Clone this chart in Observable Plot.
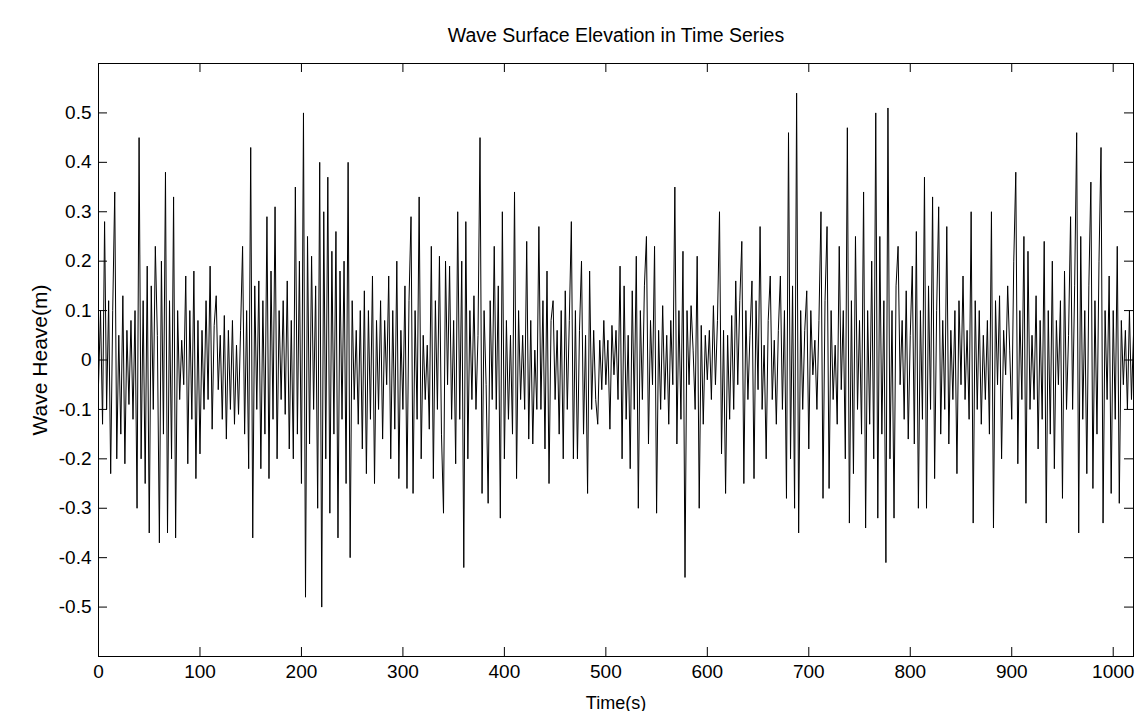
<!DOCTYPE html>
<html><head><meta charset="utf-8">
<script src="https://cdn.jsdelivr.net/npm/d3@7"></script>
<script src="https://cdn.jsdelivr.net/npm/@observablehq/plot@0.6"></script>
<style>
body{margin:0;background:#fff;}
#chart svg{font-family:"Liberation Sans",Arial,sans-serif;}
</style>
</head><body><div id="chart"></div>
<script>
const title = "Wave Surface Elevation in Time Series";
const xLabel = "Time(s)";
const yLabel = "Wave Heave(m)";
const xDomain = [0, 1020];
const yDomain = [-0.6, 0.6];
const xTicks = [0, 100, 200, 300, 400, 500, 600, 700, 800, 900, 1000];
const yTicks = [-0.5, -0.4, -0.3, -0.2, -0.1, 0, 0.1, 0.2, 0.3, 0.4, 0.5];
const sampleStep = 2; // seconds between the read samples
// wave heave (m), every 2 s (t = 0 ... 1020)
const heave = [
  -0.05, 0.1, -0.13, 0.28, -0.1, 0.12, -0.23, 0.1, 0.34, -0.2,
  0.05, -0.15, 0.13, -0.21, 0.06, -0.09, 0.08, -0.12, 0.1, -0.3,
  0.45, -0.2, 0.12, -0.25, 0.19, -0.35, 0.15, -0.1, 0.23, 0.05,
  -0.37, 0.2, -0.15, 0.38, -0.35, 0.12, -0.2, 0.33, -0.36, 0.1,
  -0.08, 0.04, -0.05, 0.17, -0.21, 0.1, -0.12, 0.18, -0.24, 0.08,
  -0.19, 0.06, -0.1, 0.12, -0.08, 0.19, -0.14, 0.07, 0.13, -0.06,
  0.05, -0.12, 0.09, -0.16, 0.06, -0.1, 0.08, -0.13, 0.03, -0.11,
  0.06, 0.23, -0.15, 0.1, -0.22, 0.43, -0.36, 0.15, -0.1, 0.16,
  -0.22, 0.12, -0.15, 0.29, -0.24, 0.18, -0.12, 0.31, -0.2, 0.1,
  -0.08, 0.12, -0.11, 0.16, -0.18, 0.08, -0.2, 0.35, -0.15, 0.2,
  -0.25, 0.5, -0.48, 0.25, -0.17, 0.21, -0.1, 0.15, -0.3, 0.4,
  -0.5, 0.3, -0.2, 0.37, -0.31, 0.22, -0.15, 0.26, -0.36, 0.18,
  -0.12, 0.2, -0.25, 0.4, -0.4, 0.12, -0.08, 0.06, -0.13, 0.1,
  -0.18, 0.14, -0.23, 0.1, -0.12, 0.17, -0.25, 0.08, -0.1, 0.12,
  -0.16, 0.08, -0.05, 0.17, -0.2, 0.1, -0.14, 0.2, -0.24, 0.06,
  -0.1, 0.15, -0.26, 0.12, 0.29, -0.27, 0.1, -0.12, 0.33, -0.2,
  0.05, -0.08, 0.03, -0.14, 0.23, -0.24, 0.12, -0.1, 0.21, -0.15,
  -0.31, 0.2, -0.05, 0.19, -0.12, 0.08, -0.21, 0.3, -0.12, 0.2,
  -0.42, 0.28, -0.2, 0.1, -0.08, 0.13, -0.1, 0.05, 0.45, -0.27,
  0.1, -0.05, -0.29, 0.12, -0.08, 0.23, -0.1, 0.15, -0.32, 0.3,
  -0.2, 0.08, -0.12, 0.05, -0.15, 0.34, -0.24, 0.1, -0.08, 0.05,
  -0.1, 0.24, -0.16, 0.08, -0.17, 0.02, -0.1, 0.27, -0.1, 0.12,
  -0.18, 0.18, -0.25, 0.08, 0.12, -0.08, 0.06, -0.15, 0.1, -0.2,
  0.14, -0.1, 0.08, 0.28, -0.2, 0.1, -0.2, 0.06, 0.2, -0.15,
  0.05, -0.27, 0.18, -0.1, 0.06, -0.08, -0.13, 0.04, -0.06, 0.08,
  -0.05, 0.04, -0.14, 0.07, -0.03, 0.06, -0.08, 0.19, -0.2, 0.15,
  -0.12, 0.05, -0.22, 0.14, -0.1, 0.21, -0.3, 0.1, -0.08, 0.15,
  0.25, -0.17, 0.08, -0.05, 0.23, -0.31, 0.06, -0.1, 0.11, -0.08,
  0.05, -0.13, 0.08, -0.05, 0.35, -0.17, 0.1, -0.12, 0.22, -0.44,
  0.1, -0.05, 0.11, 0.02, -0.1, 0.21, -0.3, 0.07, -0.13, 0.05,
  -0.04, 0.06, -0.08, 0.11, -0.05, 0.08, 0.3, -0.19, 0.06, -0.27,
  0.05, -0.12, 0.09, -0.1, 0.16, -0.05, 0.12, 0.24, -0.25, 0.1,
  -0.08, 0.05, 0.16, -0.24, 0.12, -0.06, 0.27, -0.1, 0.03, -0.2,
  0.08, 0.17, -0.08, 0.04, -0.13, 0.06, 0.17, -0.1, 0.1, -0.28,
  0.46, -0.2, 0.15, -0.3, 0.54, -0.35, 0.1, -0.1, 0.06, 0.14,
  -0.18, 0.1, -0.03, 0.04, -0.1, 0.08, 0.3, -0.28, 0.12, 0.27,
  -0.26, 0.1, -0.08, 0.03, -0.13, 0.23, -0.06, 0.1, -0.2, 0.47,
  -0.33, 0.12, -0.23, 0.25, -0.1, 0.08, -0.15, 0.34, -0.34, 0.1,
  -0.13, 0.2, -0.2, 0.5, -0.32, 0.25, -0.15, 0.12, -0.41, 0.51,
  -0.2, 0.1, -0.32, 0.15, 0.23, -0.05, 0.08, -0.12, 0.14, -0.16,
  0.05, 0.19, -0.17, 0.26, -0.3, 0.1, -0.12, 0.37, -0.3, 0.15,
  -0.1, 0.33, -0.24, 0.1, 0.31, -0.15, 0.08, -0.1, 0.27, -0.17,
  0.06, -0.08, 0.1, -0.23, 0.12, -0.05, 0.17, -0.08, 0.06, -0.12,
  0.3, -0.33, 0.12, -0.1, 0.1, -0.13, 0.05, -0.08, 0.08, -0.15,
  0.3, -0.34, 0.12, -0.05, 0.13, -0.2, 0.06, -0.03, 0.15, 0.02,
  -0.12, 0.2, 0.38, -0.21, 0.1, -0.08, 0.25, -0.29, 0.22, -0.1,
  0.05, -0.08, 0.13, -0.18, 0.08, -0.12, 0.24, -0.33, 0.1, -0.15,
  0.2, -0.22, 0.08, -0.05, 0.12, -0.28, 0.18, -0.1, 0.05, 0.29,
  -0.1, 0.15, 0.46, -0.35, 0.25, -0.12, 0.1, -0.23, 0.15, 0.36,
  -0.26, 0.12, -0.15, 0.2, 0.43, -0.33, 0.1, -0.08, 0.17, -0.27,
  0.1, -0.12, 0.23, -0.29, 0.08, -0.05, 0.06, -0.1, 0.1, -0.08,
  0.05
];
const series = heave.map((v, i) => ({t: i * sampleStep, v}));

const W = 1139, H = 711;
const mL = 98, mR = 6, mT = 63, mB = 55;
const tickPx = 9;
// tick lengths expressed in data units from the frame size
const tyLen = tickPx * (yDomain[1] - yDomain[0]) / (H - mT - mB);
const txLen = tickPx * (xDomain[1] - xDomain[0]) / (W - mL - mR);
const fmtY = d => String(+d.toFixed(1));

const chart = Plot.plot({
  width: W, height: H,
  marginLeft: mL, marginRight: mR, marginTop: mT, marginBottom: mB,
  style: {fontFamily: '"Liberation Sans", Arial, sans-serif', background: "#fff", color: "#000"},
  x: {domain: xDomain, axis: null},
  y: {domain: yDomain, axis: null},
  marks: [
    Plot.line(series, {x: "t", y: "v", stroke: "#000", strokeWidth: 1}),
    Plot.frame({stroke: "#000", strokeWidth: 1}),
    Plot.ruleX(xTicks, {x: d => d, y1: yDomain[0], y2: yDomain[0] + tyLen, stroke: "#000"}),
    Plot.ruleX(xTicks, {x: d => d, y1: yDomain[1], y2: yDomain[1] - tyLen, stroke: "#000"}),
    Plot.ruleY(yTicks, {y: d => d, x1: xDomain[0], x2: xDomain[0] + txLen, stroke: "#000"}),
    Plot.ruleY(yTicks, {y: d => d, x1: xDomain[1], x2: xDomain[1] - txLen, stroke: "#000"}),
    Plot.axisX(xTicks, {tickSize: 0, tickPadding: 8, fontSize: 19, tickFormat: d => String(d), label: null}),
    Plot.axisY(yTicks, {tickSize: 0, tickPadding: 7, fontSize: 19, tickFormat: fmtY, label: null}),
    Plot.text([title], {text: d => d, frameAnchor: "top", dy: -35, fontSize: 19.5}),
    Plot.text([xLabel], {text: d => d, frameAnchor: "bottom", dy: 52, fontSize: 18}),
    Plot.text([yLabel], {text: d => d, frameAnchor: "left", textAnchor: "middle", dx: -58, rotate: -90, fontSize: 21})
  ]
});
document.getElementById("chart").appendChild(chart);
</script>
</body></html>
